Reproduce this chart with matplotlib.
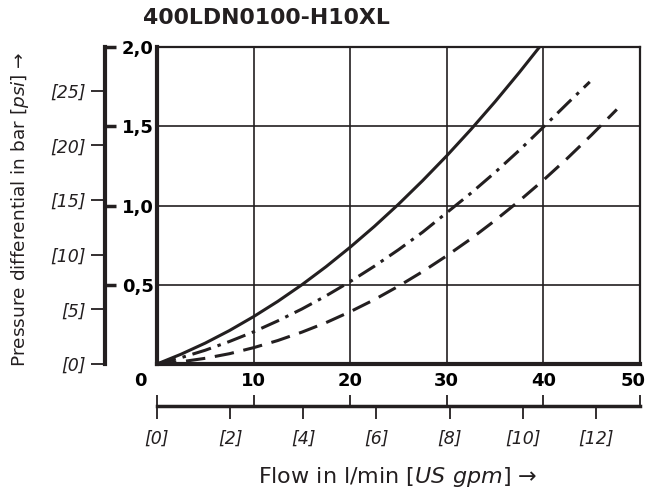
import numpy as np
import matplotlib
matplotlib.use("Agg")
import matplotlib.pyplot as plt
import matplotlib.transforms as mtransforms

plt.rcParams['lines.scale_dashes'] = False

INK = '#231f20'

# curve data (flow l/min -> pressure diff bar)
flow_solid = [0, 2.5, 5, 7.5, 10, 12.5, 15, 17.5, 20, 22.5, 25, 27.5, 30, 32.5, 35, 37.5, 39.6]
dp_solid = [0, 0.062, 0.132, 0.211, 0.299, 0.395, 0.50, 0.614, 0.737, 0.868, 1.008, 1.157, 1.314,
            1.48, 1.655, 1.839, 2.0]

flow_dashdot = [0, 2.5, 5, 7.5, 10, 12.5, 15, 17.5, 20, 22.5, 25, 27.5, 30, 32.5, 35, 37.5, 40, 42.5, 44.8]
dp_dashdot = [0, 0.040, 0.087, 0.142, 0.203, 0.272, 0.347, 0.430, 0.520, 0.617, 0.721, 0.832, 0.955,
              1.078, 1.209, 1.348, 1.495, 1.645, 1.78]

flow_dash = [0, 2.5, 5, 7.5, 10, 12.5, 15, 17.5, 20, 22.5, 25, 27.5, 30, 32.5, 35, 37.5, 40, 42.5, 45, 47.6]
dp_dash = [0, 0.014, 0.036, 0.065, 0.103, 0.148, 0.201, 0.261, 0.33, 0.406, 0.491, 0.583, 0.683,
           0.79, 0.906, 1.029, 1.16, 1.299, 1.446, 1.606]

flow_ticks = [0, 10, 20, 30, 40, 50]
bar_ticks = [0.5, 1.0, 1.5, 2.0]
bar_labels = ['0,5', '1,0', '1,5', '2,0']
psi_ticks = [0, 5, 10, 15, 20, 25]
gpm_ticks = [0, 2, 4, 6, 8, 10, 12]

PSI_PER_BAR = 14.5038
LPM_PER_GPM = 3.78541

W, H = 650, 495
fig = plt.figure(figsize=(6.5, 4.95), dpi=100)

def rect(x0, y_top, w, h):
    return [x0 / W, 1 - (y_top + h) / H, w / W, h / H]

bold_font = dict(family='DejaVu Sans', weight='bold', size=13)

# main plot
ax = fig.add_axes(rect(157, 47, 483, 317))
ax.set_xlim(0, 50)
ax.set_ylim(0, 2)
ax.plot(flow_solid, dp_solid, color=INK, lw=2.2, solid_capstyle='butt')
ax.plot(flow_dashdot, dp_dashdot, color=INK, lw=2.2, linestyle=(0, (14, 5, 2.5, 5)), dash_capstyle='butt')
ax.plot(flow_dash, dp_dash, color=INK, lw=2.2, linestyle=(0, (14, 7)), dash_capstyle='butt')
ax.set_xticks(flow_ticks)
ax.set_xticklabels([str(v) for v in flow_ticks], fontdict=bold_font)
ax.set_yticks(bar_ticks)
ax.set_yticklabels([])
ax.tick_params(axis='both', length=0, pad=6)
ax.grid(True, color=INK, lw=1.2)
for side in ['left', 'bottom']:
    ax.spines[side].set_linewidth(3)
for side in ['top', 'right']:
    ax.spines[side].set_linewidth(1.6)
for s in ax.spines.values():
    s.set_color(INK)
labs = ax.get_xticklabels()
labs[0].set_transform(labs[0].get_transform() + mtransforms.ScaledTranslation(-0.17, 0, fig.dpi_scale_trans))
labs[-1].set_transform(labs[-1].get_transform() + mtransforms.ScaledTranslation(-0.07, 0, fig.dpi_scale_trans))

fig.text(143 / W, 1 - 18 / H, '400LDN0100-H10XL', fontsize=15.8, fontweight='bold',
         ha='left', va='center', color=INK)

# bar / psi scale on the left
axb = fig.add_axes(rect(105, 47, 0.01, 317))
axb.set_ylim(0, 2)
axb.patch.set_visible(False)
for side in ['top', 'bottom', 'right']:
    axb.spines[side].set_visible(False)
axb.spines['left'].set_linewidth(3)
axb.spines['left'].set_color(INK)
axb.set_xticks([])
axb.set_yticks([p / PSI_PER_BAR for p in psi_ticks])
axb.set_yticklabels(['[%d]' % p for p in psi_ticks], fontsize=12.5, style='italic', color=INK)
axb.tick_params(axis='y', length=10, width=1.3, color=INK, pad=4)

axr = axb.twinx()
axr.set_ylim(0, 2)
for side in ['top', 'bottom', 'left', 'right']:
    axr.spines[side].set_visible(False)
axr.set_yticks(bar_ticks)
axr.set_yticklabels(bar_labels, fontdict=bold_font)
axr.tick_params(axis='y', length=8, width=2.5, color=INK, pad=4)

# gpm scale at the bottom
axg = fig.add_axes(rect(157, 406, 483, 0.01))
axg.set_xlim(0, 50)
axg.patch.set_visible(False)
for side in ['top', 'left', 'right']:
    axg.spines[side].set_visible(False)
axg.spines['bottom'].set_linewidth(2.5)
axg.spines['bottom'].set_color(INK)
axg.set_yticks([])
axg.set_xticks([g * LPM_PER_GPM for g in gpm_ticks])
axg.set_xticklabels(['[%d]' % g for g in gpm_ticks], fontsize=12.5, style='italic', color=INK)
axg.tick_params(axis='x', length=9, width=1.3, color=INK, pad=8)

axt = axg.twiny()
axt.set_xlim(0, 50)
for side in ['top', 'bottom', 'left', 'right']:
    axt.spines[side].set_visible(False)
axt.set_xticks(flow_ticks)
axt.set_xticklabels([])
axt.tick_params(axis='x', length=8, width=1.3, color=INK)

# axis titles
fig.text(398 / W, 1 - 477 / H, 'Flow in l/min $\\mathit{[US\\ gpm]}$ →', ha='center', va='center',
         fontsize=16, color=INK)
fig.text(20 / W, 1 - 209 / H, 'Pressure differential in bar $\\mathit{[psi]}$ →', ha='center', va='center',
         rotation=90, fontsize=13.3, color=INK)

fig.savefig('out.png', dpi=100)
